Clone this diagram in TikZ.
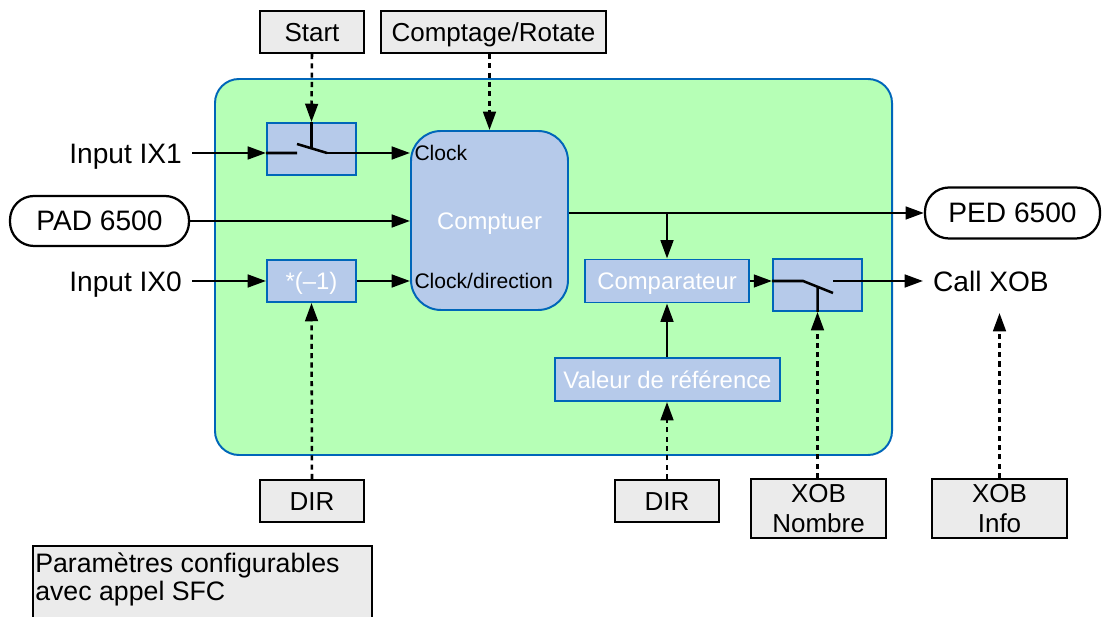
\documentclass[tikz,border=0pt]{standalone}
\usepackage{fontspec}
\setmainfont{Liberation Sans}
\usetikzlibrary{arrows.meta}

\definecolor{zonegreen}{RGB}{182,255,182}
\definecolor{edgeblue}{RGB}{0,102,185}
\definecolor{boxblue}{RGB}{182,202,234}
\definecolor{boxgray}{RGB}{235,235,235}

\begin{document}
\begin{tikzpicture}[>={Triangle[length=13pt,width=9pt]}, line join=miter,
  sig/.style={->, line width=1.8pt},
  ctrl/.style={->, line width=1.8pt, dash pattern=on 3.6pt off 3pt},
  parambox/.style={draw=black, fill=boxgray, line width=1.6pt, inner sep=0pt, align=center, font=\fontsize{18.5}{21.3}\selectfont},
  oneline/.style={text height=13.3pt, text depth=0pt},
  funcbox/.style={draw=edgeblue, fill=boxblue, line width=1.4pt, inner sep=0pt, text=white, text height=12.2pt, text depth=0pt, font=\fontsize{17}{20}\selectfont},
  ioterm/.style={draw=black, line width=1.6pt, rounded corners=0.6cm, inner sep=0pt, font=\fontsize{20}{24}\selectfont},
  iolabel/.style={inner xsep=7pt, inner ysep=0pt, text height=14.4pt, text depth=0pt, font=\fontsize{20}{24}\selectfont},
  pinlabel/.style={inner xsep=3pt, inner ysep=0pt, text height=10.8pt, text depth=0pt, font=\fontsize{15}{18}\selectfont}]

\useasboundingbox (0,0) rectangle (27.55,15.425);

% block area
\draw[fill=zonegreen, draw=edgeblue, line width=1.4pt, rounded corners=0.6cm] (5.375,4.05) rectangle (22.3,13.45);

% parameters
\node[parambox, oneline, minimum width=2.6cm, minimum height=1.05cm] (start) at (7.8,14.625) {Start};
\node[parambox, oneline, minimum width=5.625cm, minimum height=1.05cm] (rotate) at (12.3375,14.625) {Comptage/Rotate};
\node[parambox, oneline, minimum width=2.6cm, minimum height=1.05cm] (dir1) at (7.8,2.9) {DIR};
\node[parambox, oneline, minimum width=2.6cm, minimum height=1.05cm] (dir2) at (16.675,2.9) {DIR};
\node[parambox, minimum width=3.375cm, minimum height=1.475cm] (xobn) at (20.4625,2.7125) {XOB\\Nombre};
\node[parambox, minimum width=3.375cm, minimum height=1.475cm] (xobi) at (24.9875,2.7125) {XOB\\Info};

% function blocks
\node[funcbox, minimum width=2.225cm, minimum height=1.3cm] (sw1) at (7.7875,11.7) {};
\node[funcbox, rounded corners=0.75cm, minimum width=3.925cm, minimum height=4.475cm] (cpt) at (12.2375,9.9125) {Comptuer};
\node[funcbox, minimum width=2.225cm, minimum height=1.05cm] (neg) at (7.7875,8.4) {*(–1)};
\node[funcbox, minimum width=4.1cm, minimum height=1.075cm] (comp) at (16.675,8.4) {Comparateur};
\node[funcbox, minimum width=2.225cm, minimum height=1.3cm] (sw2) at (20.4375,8.3) {};
\node[funcbox, minimum width=5.625cm, minimum height=1.075cm] (ref) at (16.6875,5.9375) {Valeur de référence};

% inputs and outputs
\node[ioterm, minimum width=4.475cm, minimum height=1.25cm] (pad) at (2.4875,9.9) {PAD 6500};
\node[ioterm, minimum width=4.375cm, minimum height=1.275cm] (ped) at (25.3125,10.1) {PED 6500};
\node[iolabel, anchor=east] (in1) at (4.8,11.6) {Input IX1};
\node[iolabel, anchor=east] (in0) at (4.8,8.4) {Input IX0};
\node[iolabel, anchor=west] (call) at (23.075,8.4) {Call XOB};

\coordinate (sw1out) at (8.175,11.6);
\coordinate (sw2out) at (20.825,8.4);
\coordinate (xobtip) at (24.9875,7.6);

\node[pinlabel, anchor=west] (clk) at (sw1out -| cpt.west) {Clock};
\node[pinlabel, anchor=west] (clkdir) at (neg.east -| cpt.west) {Clock/direction};

% switch contacts
\draw[line width=1.8pt] (in1.east -| sw1.west) -- (7.425,11.6) (7.425,11.825) -- (sw1out) (sw1.north) -- (sw1.center);
\draw[line width=1.8pt] (comp.east -| sw2.west) -- (20.075,8.4) -- (sw2out |- 0,8.1) (sw2.south) -- (20.4375,8.255);

% signals
\draw[sig] (in1.east) -- (in1.east -| sw1.west);
\draw[sig] (sw1out) -- (sw1out -| cpt.west);
\draw[sig] (pad.east) -- (pad.east -| cpt.west);
\draw[sig] (in0.east) -- (in0.east -| neg.west);
\draw[sig] (neg.east) -- (neg.east -| cpt.west);
\draw[sig] (cpt.east |- ped.west) -- (ped.west);
\draw[sig] (comp.north |- ped.west) -- (comp.north);
\draw[sig] (comp.east) -- (comp.east -| sw2.west);
\draw[sig] (sw2out) -- (call.west);
\draw[sig] (ref.north -| comp.south) -- (comp.south);

% parameter links
\draw[ctrl] (start.south) -- (sw1.north);
\draw[ctrl] (rotate.south -| cpt.north) -- (cpt.north);
\draw[ctrl] (dir1.north) -- (neg.south);
\draw[ctrl] (dir2.north) -- (dir2.north |- ref.south);
\draw[ctrl] (xobn.north -| sw2.south) -- (sw2.south);
\draw[ctrl] (xobi.north) -- (xobtip);

% legend
\draw[fill=boxgray, line width=1.6pt] (0.825,1.775) rectangle (9.3,-0.5);
\node[anchor=north west, align=left, inner sep=0pt, font=\fontsize{19}{19.5}\selectfont] (note) at (0.875,1.6) {Paramètres configurables\\avec appel SFC};

\end{tikzpicture}
\end{document}
